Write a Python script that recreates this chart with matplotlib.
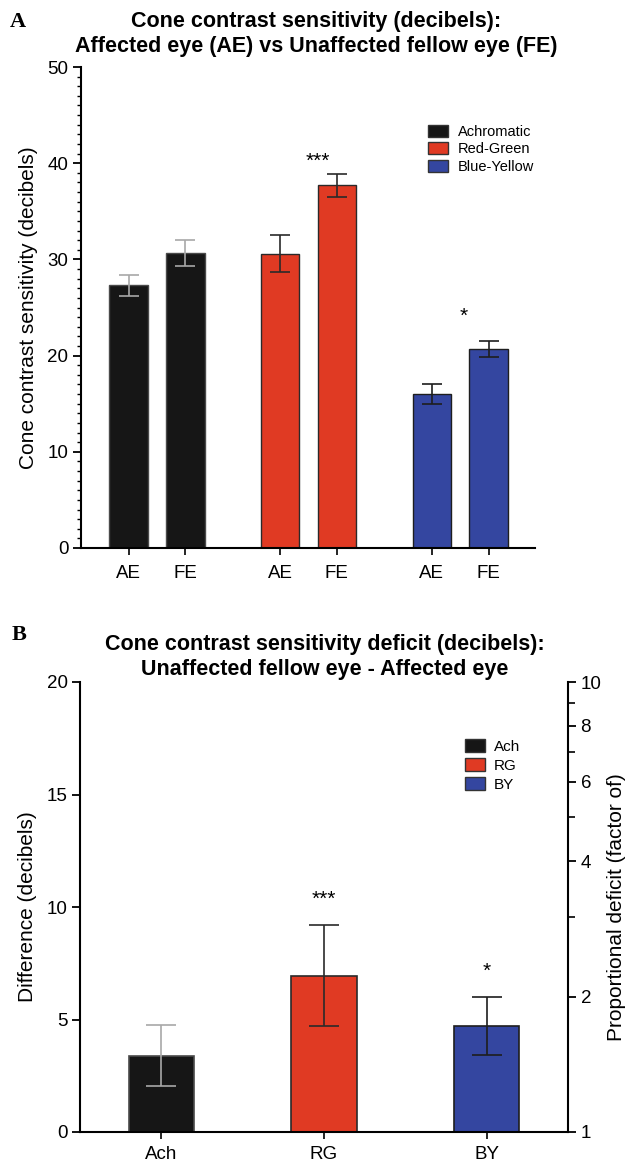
import numpy as np
import matplotlib
matplotlib.use("Agg")
import matplotlib.pyplot as plt
from matplotlib.patches import Patch
from matplotlib.ticker import MultipleLocator, FixedLocator, NullFormatter, FixedFormatter

plt.rcParams['font.family'] = ['Liberation Sans', 'DejaVu Sans']

# ---- Panel A data: cone contrast sensitivity (dB) ----
channels = ["Achromatic", "Red-Green", "Blue-Yellow"]
eye_labels = ["AE", "FE", "AE", "FE", "AE", "FE"]
sens_mean = [27.3, 30.7, 30.6, 37.7, 16.0, 20.7]
sens_err = [1.1, 1.35, 1.95, 1.2, 1.0, 0.85]
sig_a = ["", "***", "*"]

# ---- Panel B data: deficit FE - AE (dB) ----
deficit_labels = ["Ach", "RG", "BY"]
deficit_mean = [3.4, 6.95, 4.7]
deficit_err = [1.35, 2.23, 1.29]
sig_b = ["", "***", "*"]
factor_ticks = [1, 2, 4, 6, 8, 10]
factor_minor = [3, 5, 7, 9]

colors = ["#161616", "#E03A23", "#3446A0"]
err_colors = ["#A8A8A8", "#2A2A2A", "#1E1E1E"]
edge_colors = ["#4A4A4A", "#2A2A2A", "#1E1E1E"]

W, H = 628, 1165
fig = plt.figure(figsize=(W / 100, H / 100), dpi=100)

TICK_FS = 13.5
LABEL_FS = 15
TITLE_FS = 15.5
LEG_FS = 10.5
STAR_FS = 15


def place(l, t, r, b):
    return fig.add_axes([l / W, 1 - b / H, (r - l) / W, (b - t) / H])


def fig_text(x, y, s, **kw):
    fig.text(x / W, 1 - y / H, s, **kw)


# ================= Panel A =================
axA = place(81, 67, 535, 548)
gap = 2.675
xa = []
for g in range(3):
    xa += [g * gap, g * gap + 1]
for i, (x, m, e) in enumerate(zip(xa, sens_mean, sens_err)):
    g = i // 2
    axA.bar(x, m, width=0.68, color=colors[g], edgecolor=edge_colors[g], linewidth=1.0, zorder=2)
    axA.errorbar(x, m, yerr=e, fmt="none", ecolor=err_colors[g], elinewidth=1.2,
                 capsize=7, capthick=1.2, zorder=3)
# significance markers over the fellow-eye bars
star_pos_a = {1: (-0.34, 1.3), 2: (-0.43, 2.55)}
for g, s in enumerate(sig_a):
    if s:
        fe = g * 2 + 1
        dx, dy = star_pos_a[g]
        axA.text(xa[fe] + dx, sens_mean[fe] + sens_err[fe] + dy, s,
                 ha="center", va="center", fontsize=STAR_FS)
axA.set_xlim(-0.84, 7.17)
axA.set_ylim(0, 50)
axA.set_xticks(xa)
axA.set_xticklabels(eye_labels, fontsize=TICK_FS)
axA.yaxis.set_major_locator(MultipleLocator(10))
axA.yaxis.set_minor_locator(MultipleLocator(1))
axA.tick_params(axis="y", which="major", length=6, width=1.3, labelsize=TICK_FS, pad=3)
axA.tick_params(axis="y", which="minor", length=3, width=1.0)
axA.tick_params(axis="x", length=5, width=1.2, pad=7)
for sp in ["top", "right"]:
    axA.spines[sp].set_visible(False)
for sp in ["left", "bottom"]:
    axA.spines[sp].set_linewidth(1.5)
axA.set_ylabel("Cone contrast sensitivity (decibels)", fontsize=LABEL_FS, labelpad=7)
fig_text(316, 27, "Cone contrast sensitivity (decibels):", ha="center", va="baseline",
         fontsize=TITLE_FS, fontweight="bold")
fig_text(316, 52, "Affected eye (AE) vs Unaffected fellow eye (FE)", ha="center", va="baseline",
         fontsize=TITLE_FS, fontweight="bold")
handlesA = [Patch(facecolor=c, edgecolor="#333333", label=l) for c, l in zip(colors, channels)]
axA.legend(handles=handlesA, loc="upper left", bbox_to_anchor=((428 - 81) / 454, (548 - 125) / 481),
           frameon=False, fontsize=LEG_FS, handlelength=1.37, handleheight=0.9,
           handletextpad=0.68, labelspacing=0.22, borderaxespad=0, borderpad=0)
fig_text(10, 27, "A", fontsize=16, fontweight="bold", va="baseline",
         family=["Liberation Serif", "DejaVu Serif"])

# ================= Panel B =================
axB = place(80, 682, 568, 1132)
xb = np.arange(len(deficit_labels))
for i, (x, m, e) in enumerate(zip(xb, deficit_mean, deficit_err)):
    axB.bar(x, m, width=0.4, color=colors[i], edgecolor=edge_colors[i], linewidth=1.2, zorder=2)
    axB.errorbar(x, m, yerr=e, fmt="none", ecolor=err_colors[i], elinewidth=1.2,
                 capsize=11, capthick=1.2, zorder=3)
    if sig_b[i]:
        axB.text(x, m + e + 1.15, sig_b[i], ha="center", va="center", fontsize=STAR_FS)
axB.set_xlim(-0.5, 2.5)
axB.set_ylim(0, 20)
axB.set_xticks(xb)
axB.set_xticklabels(deficit_labels, fontsize=TICK_FS)
axB.yaxis.set_major_locator(MultipleLocator(5))
axB.tick_params(axis="y", length=6, width=1.3, labelsize=TICK_FS, pad=3)
axB.tick_params(axis="x", length=5, width=1.2, pad=5)
for sp in ["top", "right"]:
    axB.spines[sp].set_visible(False)
for sp in ["left", "bottom"]:
    axB.spines[sp].set_linewidth(1.5)
axB.set_ylabel("Difference (decibels)", fontsize=LABEL_FS, labelpad=7)
fig_text(325, 650, "Cone contrast sensitivity deficit (decibels):", ha="center", va="baseline",
         fontsize=TITLE_FS, fontweight="bold")
fig_text(325, 675, "Unaffected fellow eye - Affected eye", ha="center", va="baseline",
         fontsize=TITLE_FS, fontweight="bold")
handlesB = [Patch(facecolor=c, edgecolor="#333333", label=l) for c, l in zip(colors, deficit_labels)]
axB.legend(handles=handlesB, loc="upper left", bbox_to_anchor=((465 - 80) / 488, (1132 - 739) / 450),
           frameon=False, fontsize=11, handlelength=1.3, handleheight=0.9,
           handletextpad=0.6, labelspacing=0.3, borderaxespad=0, borderpad=0)
fig_text(12, 640, "B", fontsize=16, fontweight="bold", va="baseline",
         family=["Liberation Serif", "DejaVu Serif"])

# right axis: dB difference expressed as a proportional factor, 20 dB = x10
axR = axB.twinx()
axR.set_yscale("log")
axR.set_ylim(1, 10)
axR.yaxis.set_major_locator(FixedLocator(factor_ticks))
axR.yaxis.set_major_formatter(FixedFormatter([str(t) for t in factor_ticks]))
axR.yaxis.set_minor_locator(FixedLocator(factor_minor))
axR.yaxis.set_minor_formatter(NullFormatter())
axR.tick_params(axis="y", which="major", length=6, width=1.3, labelsize=TICK_FS, pad=3)
axR.tick_params(axis="y", which="minor", length=5, width=1.2)
for sp in ["top", "left", "bottom"]:
    axR.spines[sp].set_visible(False)
axR.spines["right"].set_linewidth(1.5)
axR.set_ylabel("Proportional deficit (factor of)", fontsize=LABEL_FS, labelpad=4)

fig.savefig("out.png", dpi=100)
